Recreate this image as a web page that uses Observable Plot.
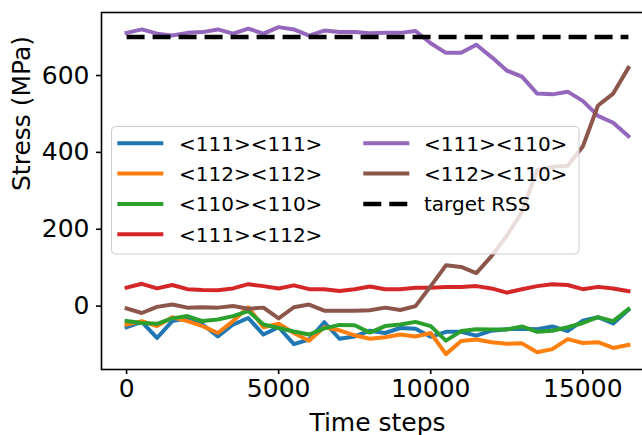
<!DOCTYPE html>
<html><head><meta charset="utf-8">
<script src="https://cdn.jsdelivr.net/npm/d3@7"></script>
<script src="https://cdn.jsdelivr.net/npm/@observablehq/plot@0.6"></script>
<style>
html,body{margin:0;padding:0;background:#fff;overflow:hidden;width:642px;height:435px;}
#chart{position:relative;width:653px;height:435px;}
</style></head><body><div id="chart"></div>
<script>
const steps = [0,500,1000,1500,2000,2500,3000,3500,4000,4500,5000,5500,6000,6500,7000,7500,8000,8500,9000,9500,10000,10500,11000,11500,12000,12500,13000,13500,14000,14500,15000,15500,16000,16500];
const seriesNames = ["<111><111>","<112><112>","<110><110>","<111><112>","<111><110>","<112><110>"];
const seriesColors = ["#1f77b4","#ff7f0e","#2ca02c","#d62728","#9467bd","#8c564b"];
const s111_111 = [-55,-41,-83,-39,-32,-48,-79,-48,-31,-74,-55,-99,-87,-42,-85,-79,-64,-70,-57,-59,-80,-67,-67,-77,-64,-60,-59,-60,-53,-65,-38,-29,-45,-10];
const s112_112 = [-48,-39,-52,-29,-39,-52,-70,-39,-3,-55,-46,-70,-90,-55,-63,-76,-85,-81,-74,-79,-70,-125,-91,-87,-94,-98,-97,-120,-112,-86,-96,-94,-109,-101];
const s110_110 = [-39,-44,-46,-32,-26,-39,-35,-26,-13,-48,-57,-66,-74,-58,-49,-50,-69,-52,-48,-41,-52,-90,-65,-60,-61,-61,-53,-67,-64,-55,-44,-29,-39,-8];
const s111_112 = [48,58,46,55,44,42,41,46,57,52,46,54,44,44,39,44,51,44,44,48,48,50,50,52,46,35,44,52,57,55,44,50,46,39];
const s111_110 = [711,720,709,704,711,713,720,709,722,709,726,720,704,717,713,713,710,711,711,716,684,659,659,680,648,613,597,553,551,558,534,495,477,442];
const s112_110 = [-6,-18,-2,4,-4,-3,-4,0,-7,-4,-32,-3,4,-12,-12,-12,-11,-4,-10,0,52,106,102,86,130,183,245,354,362,365,415,522,553,620];
const targetLabel = "target RSS";
const targetSteps = [0, 16500];
const targetValues = [700, 700];
const xTicks = [0, 5000, 10000, 15000];
const yTicks = [0, 200, 400, 600];
const xLabel = "Time steps";
const yLabel = "Stress (MPa)";

const allSeries = [s111_111, s112_112, s110_110, s111_112, s111_110, s112_110];
const rows = [];
allSeries.forEach((vals, k) => vals.forEach((v, i) => rows.push({step: steps[i], value: v, series: seriesNames[k]})));
const targetRows = targetSteps.map((s, i) => ({step: s, value: targetValues[i]}));

const svg = Plot.plot({
  width: 653, height: 435,
  marginLeft: 101, marginRight: 0, marginTop: 12, marginBottom: 66,
  x: {domain: [-825, 17325]},
  y: {domain: [-165, 764]},
  color: {domain: seriesNames, range: seriesColors},
  style: {fontFamily: "DejaVu Sans", fontSize: "25px", color: "black", background: "white", overflow: "visible"},
  marks: [
    Plot.line(rows, {x: "step", y: "value", z: "series", stroke: "series", strokeWidth: 4, strokeLinejoin: "round", strokeLinecap: "square"}),
    Plot.line(targetRows, {x: "step", y: "value", stroke: "black", strokeWidth: 4.5, strokeDasharray: "18,8", strokeLinecap: "butt"}),
    Plot.frame({stroke: "black", strokeWidth: 1.6}),
    Plot.axisX({ticks: xTicks, tickFormat: d3.format("d"), tickSize: 5, tickPadding: 5, strokeWidth: 1.6, label: null, fontSize: 25}),
    Plot.axisY({ticks: yTicks, tickFormat: d3.format("d"), tickSize: 5, tickPadding: 7, strokeWidth: 1.6, label: null, fontSize: 25}),
    Plot.text([xLabel], {frameAnchor: "bottom", lineAnchor: "middle", dy: 53, fontSize: 25, text: d => d}),
    Plot.text([yLabel], {frameAnchor: "left", lineAnchor: "middle", dx: -80, rotate: -90, fontSize: 25, text: d => d})
  ]
});
document.getElementById("chart").appendChild(svg);

// legend
const root = d3.select(svg);
const lg = root.append("g").attr("font-family", "DejaVu Sans").attr("font-size", 20).attr("text-anchor", "start");
lg.append("rect").attr("x", 111.5).attr("y", 126.5).attr("width", 467.5).attr("height", 127.5).attr("rx", 4)
  .attr("fill", "white").attr("fill-opacity", 0.8).attr("stroke", "#cccccc").attr("stroke-width", 1);
const legendItems = seriesNames.map((n, i) => ({label: n, color: seriesColors[i], dash: null}));
legendItems.push({label: targetLabel, color: "black", dash: "18,8"});
const rowsY = [143.3, 173.5, 204, 234.2];
legendItems.forEach((it, i) => {
  const col = i < 4 ? 0 : 1;
  const row = i < 4 ? i : i - 4;
  const hx = col === 0 ? 117.3 : 363.3;
  const tx = col === 0 ? 179 : 424;
  const y = rowsY[row];
  lg.append("line").attr("x1", hx).attr("x2", hx + 46).attr("y1", y).attr("y2", y)
    .attr("stroke", it.color).attr("stroke-width", it.dash ? 4.5 : 4)
    .attr("stroke-dasharray", it.dash);
  lg.append("text").attr("x", tx).attr("y", y + 7.3).attr("text-anchor", "start").attr("fill", "black").text(it.label);
});
</script></body></html>
